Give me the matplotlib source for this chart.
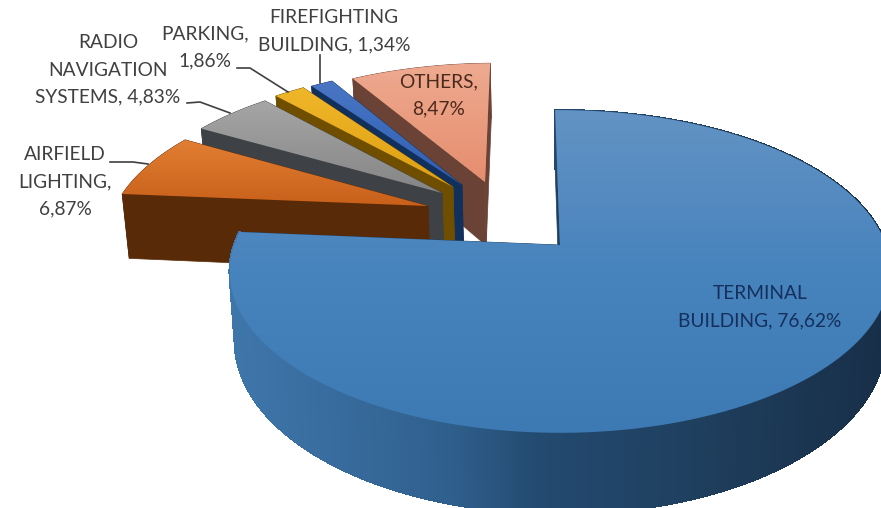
import numpy as np
import matplotlib
matplotlib.use('Agg')
import matplotlib.pyplot as plt
from matplotlib.collections import PolyCollection
from matplotlib.colors import LinearSegmentedColormap, to_rgb
from matplotlib.patches import Polygon

plt.rcParams['font.family'] = ['Lato', 'DejaVu Sans']

# shares in the order they run clockwise around the pie
names = ['TERMINAL\nBUILDING, 76,62%', 'AIRFIELD\nLIGHTING,\n6,87%',
         'RADIO\nNAVIGATION\nSYSTEMS, 4,83%', 'PARKING,\n1,86%',
         'FIREFIGHTING\nBUILDING, 1,34%', 'OTHERS,\n8,47%']
shares = [76.62, 6.87, 4.83, 1.86, 1.34, 8.47]

# where the tip of each exploded slice lands, in pixels
tips_x = [560, 428, 442, 453, 462, 485]
tips_y = [245, 206, 193, 187, 185, 182]

top_ramps = [['#6393c4', '#4783bd', '#3d7ab4'], ['#e27f33', '#c8601a'],
             ['#a6a6a6', '#858585'], ['#f0b62a', '#dfa012'],
             ['#4a76c4', '#2e5fb3'], ['#eeaa90', '#e68d6e']]
walls = ['#1f3f5e', '#592a07', '#3e4247', '#6f4e00', '#12305c', '#6b4236']

label_x = [760, 65, 108, 205, 334, 439]
label_y = [307, 182, 70, 47, 31, 95]
label_colors = ['#15305c', '#404040', '#404040', '#404040', '#404040', '#4a2a1c']
LINE_GAP = 27

leader_x = [None, [110, 133, 148], [187, 200, 230], [237, 250, 288], [320, 320], None]
leader_y = [None, [162, 162, 164], [103, 102, 113], [68, 68, 92], [55, 83], None]

# projection of the pie plane
X0, Y0 = 560, 245
FX, FY = 326, 157
K = 0.164
DEPTH = 68
SHRINK = 0.984
START = -1.0


def project(u, v):
    d = 1 + K * v
    return X0 + FX * u / d, Y0 - FY * v / d


def unproject(x, y):
    w = (Y0 - y) / FY
    v = w / (1 - K * w)
    return (x - X0) * (1 + K * v) / FX, v


def drop(u, v):
    x, y = project(u, v)
    return X0 + (x - X0) * SHRINK, y + DEPTH / (1 + K * v)


def rim(tip, a0, a1, n=60):
    a = np.radians(np.linspace(a0, a1, n))
    return tip[0] + np.sin(a), tip[1] + np.cos(a)


def gradient_fill(ax, xy, ramp, z):
    patch = Polygon(xy, closed=True, fc='none', ec='none', zorder=z)
    ax.add_patch(patch)
    x0, y0 = xy.min(axis=0)
    x1, y1 = xy.max(axis=0)
    cmap = LinearSegmentedColormap.from_list('top', ramp)
    im = ax.imshow(np.linspace(0, 1, 128)[:, None], cmap=cmap, aspect='auto',
                   extent=[x0, x1, y1, y0], zorder=z, interpolation='bilinear')
    im.set_clip_path(patch)


fig = plt.figure(figsize=(8.81, 5.08), dpi=100)
ax = fig.add_axes([0, 0, 1, 1])

edges = START + np.concatenate([[0], np.cumsum(shares)]) * 3.6
z = 1

# back slices first so each top hides the wall of the one behind it
for i in range(len(shares) - 1, -1, -1):
    tip = unproject(tips_x[i], tips_y[i])
    a0, a1 = edges[i], edges[i + 1]
    u, v = rim(tip, a0, a1, 600 if i == 0 else 40)
    top = np.column_stack(project(u, v))
    low = np.column_stack(drop(u, v))
    tip_top = np.array(project(*tip))
    tip_low = np.array(drop(*tip))

    for edge in (0, -1):
        quad = np.array([tip_top, top[edge], low[edge], tip_low])
        ax.add_patch(Polygon(quad, fc=walls[i], ec=walls[i], lw=0.5, zorder=z))

    if i == 0:
        # outer wall of the big slice gets lighter towards its left end
        quads = [[top[j], top[j + 1], low[j + 1], low[j]] for j in range(len(top) - 1)]
        mids = top[:-1, 0]
        stops_x = [230, 350, 450, 540, 700, 881]
        stops = np.array([to_rgb(c) for c in
                          ['#3f76aa', '#376a9c', '#2f5f8c', '#234a70', '#1f3f5e', '#182f49']])
        cols = np.column_stack([np.interp(mids, stops_x, stops[:, c]) for c in range(3)])
        ax.add_collection(PolyCollection(quads, facecolors=cols, edgecolors=cols,
                                         linewidths=0.8, antialiaseds=False, zorder=z))
    else:
        wall = np.vstack([top, low[::-1]])
        ax.add_patch(Polygon(wall, fc=walls[i], ec=walls[i], lw=0.5, zorder=z))

    z += 1
    gradient_fill(ax, np.vstack([tip_top, top]), top_ramps[i], z)
    z += 1

for i in range(len(shares)):
    if leader_x[i] is not None:
        ax.plot(leader_x[i], leader_y[i], color='#404040', lw=1.2, zorder=z)
    # one text per line, the wrapped labels interlock around the top of the pie
    lines = names[i].split('\n')
    for n, line in enumerate(lines):
        y = label_y[i] + (n - (len(lines) - 1) / 2) * LINE_GAP
        ax.text(label_x[i], y, line, color=label_colors[i], fontsize=13.8,
                ha='center', va='center', zorder=z + 1)

ax.set_xlim(0, 881)
ax.set_ylim(508, 0)
ax.axis('off')

fig.savefig('out.png', dpi=100)
